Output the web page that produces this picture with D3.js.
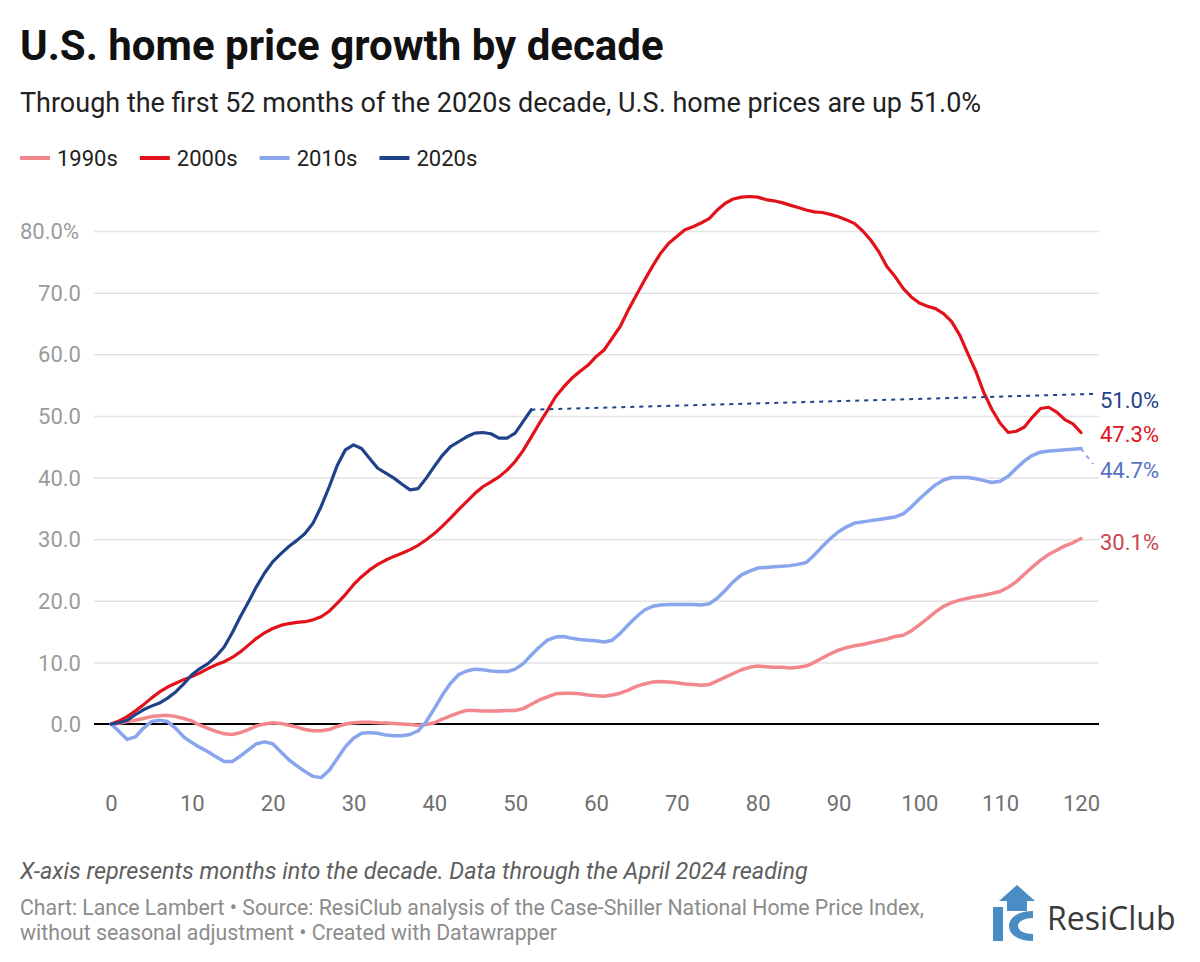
<!DOCTYPE html>
<html>
<head>
<meta charset="utf-8">
<script src="https://cdn.jsdelivr.net/npm/d3@7"></script>
<style>
  body { margin: 0; background: #fff; font-family: Roboto, "Noto Sans", sans-serif; }
  svg { display: block; }
</style>
</head>
<body>
<svg id="chart" width="1200" height="962"></svg>
<script>
// months into the decade, % change since month 0
const decades = ['1990s', '2000s', '2010s', '2020s'];
const colors = ['#f2878e', '#e2121b', '#88a5ee', '#1f4288'];
const labelColors = ['#c8464f', '#e2121b', '#5873c6', '#1f4288'];

const s1990 = [0, 0.1, 0.4, 0.6, 0.9, 1.2, 1.35, 1.4, 1.2, 0.9, 0.5, -0.2, -0.7, -1.2, -1.6, -1.7, -1.4, -0.9, -0.3, 0.0,
  0.2, 0.1, -0.2, -0.5, -0.9, -1.1, -1.1, -0.9, -0.4, 0.0, 0.2, 0.3, 0.3, 0.2, 0.15, 0.1, 0.0, -0.1, -0.2, -0.1,
  0.2, 0.8, 1.3, 1.8, 2.2, 2.2, 2.1, 2.1, 2.1, 2.2, 2.2, 2.5, 3.2, 3.9, 4.4, 4.9, 5.0, 5.0, 4.9, 4.7,
  4.6, 4.5, 4.7, 5.0, 5.5, 6.1, 6.5, 6.8, 6.9, 6.8, 6.7, 6.5, 6.4, 6.3, 6.4, 7.0, 7.6, 8.2, 8.8, 9.2,
  9.4, 9.3, 9.2, 9.2, 9.1, 9.2, 9.4, 10.0, 10.7, 11.4, 12.0, 12.4, 12.7, 12.9, 13.2, 13.5, 13.8, 14.2, 14.4, 15.1,
  16.1, 17.1, 18.2, 19.1, 19.7, 20.1, 20.4, 20.7, 20.9, 21.2, 21.5, 22.2, 23.1, 24.3, 25.5, 26.6, 27.5, 28.2, 28.9, 29.4,
  30.1];

const s2000 = [0, 0.5, 1.2, 2.1, 3.1, 4.2, 5.2, 6.0, 6.6, 7.2, 7.7, 8.3, 9.0, 9.6, 10.1, 10.8, 11.7, 12.8, 13.9, 14.8,
  15.5, 16.0, 16.3, 16.5, 16.6, 16.9, 17.4, 18.3, 19.6, 21.0, 22.6, 23.9, 25.0, 25.9, 26.6, 27.2, 27.7, 28.3, 29.0, 29.9,
  30.9, 32.1, 33.4, 34.8, 36.1, 37.4, 38.5, 39.3, 40.1, 41.2, 42.6, 44.4, 46.6, 48.8, 50.9, 53.1, 54.7, 56.1, 57.2, 58.2,
  59.6, 60.7, 62.6, 64.5, 67.2, 69.6, 72.0, 74.3, 76.4, 78.0, 79.1, 80.2, 80.7, 81.3, 82.0, 83.4, 84.5, 85.2, 85.5, 85.6,
  85.5, 85.1, 84.9, 84.6, 84.2, 83.8, 83.4, 83.1, 83.0, 82.7, 82.3, 81.8, 81.2, 80.0, 78.5, 76.6, 74.2, 72.6, 70.7, 69.3,
  68.3, 67.8, 67.4, 66.6, 65.3, 63.1, 60.1, 57.2, 53.7, 51.0, 48.8, 47.3, 47.5, 48.2, 49.8, 51.2, 51.4, 50.6, 49.4, 48.7,
  47.3];

const s2010 = [0, -1.2, -2.5, -2.1, -0.7, 0.4, 0.6, 0.4, -0.7, -2.1, -3.0, -3.8, -4.5, -5.3, -6.1, -6.1, -5.2, -4.2, -3.2, -2.9,
  -3.2, -4.5, -5.8, -6.8, -7.7, -8.5, -8.7, -7.5, -5.6, -3.7, -2.3, -1.5, -1.4, -1.5, -1.8, -1.9, -1.9, -1.7, -1.1, 0.4,
  2.5, 4.7, 6.6, 8.0, 8.6, 8.9, 8.8, 8.6, 8.5, 8.5, 8.9, 9.8, 11.2, 12.5, 13.6, 14.1, 14.2, 13.9, 13.7, 13.6,
  13.5, 13.3, 13.6, 14.7, 16.1, 17.4, 18.5, 19.1, 19.3, 19.4, 19.4, 19.4, 19.4, 19.3, 19.5, 20.4, 21.7, 23.1, 24.2, 24.8,
  25.3, 25.4, 25.5, 25.6, 25.7, 25.9, 26.2, 27.4, 28.8, 30.1, 31.2, 32.0, 32.6, 32.8, 33.0, 33.2, 33.4, 33.6, 34.1, 35.2,
  36.5, 37.7, 38.8, 39.6, 40.0, 40.0, 40.0, 39.8, 39.5, 39.2, 39.4, 40.2, 41.5, 42.7, 43.6, 44.1, 44.3, 44.4, 44.5, 44.6,
  44.7];

const s2020 = [0, 0.2, 0.6, 1.5, 2.3, 2.9, 3.4, 4.2, 5.2, 6.5, 8.0, 9.0, 9.8, 11.0, 12.5, 14.8, 17.4, 19.8, 22.3, 24.5,
  26.3, 27.6, 28.8, 29.8, 30.9, 32.6, 35.3, 38.5, 42.0, 44.5, 45.3, 44.7, 43.1, 41.5, 40.7, 39.9, 38.9, 38.0, 38.2, 39.9,
  41.8, 43.6, 45.0, 45.8, 46.6, 47.2, 47.3, 47.1, 46.4, 46.4, 47.2, 49.1, 51.0];

const series = [s1990, s2000, s2010, s2020];
const yTicks = [0, 10, 20, 30, 40, 50, 60, 70, 80];
const xTicks = [0, 10, 20, 30, 40, 50, 60, 70, 80, 90, 100, 110, 120];

// label placement for the line ends (label centre y)
const labelY = [542, 434, 470, 400];

const svg = d3.select('#chart');

const x = d3.scaleLinear().domain([0, 120]).range([111, 1081]);
const y = d3.scaleLinear().domain([0, 80]).range([724, 231]);

// header
svg.append('text')
  .attr('x', 20).attr('y', 60)
  .style('font-size', '42px').style('font-weight', 700).style('fill', '#111')
  .text('U.S. home price growth by decade');

svg.append('text')
  .attr('x', 20).attr('y', 112)
  .style('font-size', '27px').style('fill', '#222')
  .text('Through the first 52 months of the 2020s decade, U.S. home prices are up 51.0%');

// legend
let lx = 20;
decades.forEach(function(d, i) {
  svg.append('line')
    .attr('x1', lx).attr('x2', lx + 30)
    .attr('y1', 158).attr('y2', 158)
    .attr('stroke', colors[i]).attr('stroke-width', 4);
  const t = svg.append('text')
    .attr('x', lx + 37).attr('y', 166)
    .style('font-size', '22px').style('fill', '#222')
    .text(d);
  lx += 37 + t.node().getComputedTextLength() + 22;
});

// y grid + labels
const yAxis = svg.append('g').attr('transform', 'translate(94,0)')
  .call(d3.axisLeft(y).tickValues(yTicks).tickSize(-1005).tickPadding(13)
    .tickFormat(function(d) { return d3.format('.1f')(d) + (d === 80 ? '%' : ''); }));
yAxis.select('.domain').remove();
yAxis.selectAll('.tick line').attr('stroke', '#e3e3e3').attr('stroke-width', 1.5);
yAxis.selectAll('.tick text')
  .style('font-size', '22px').style('fill', '#9b9b9b').attr('font-family', 'Roboto')
  .attr('x', -13).attr('dy', '0.35em');
// the "%" hangs out past the right edge of the numbers
yAxis.selectAll('.tick text').filter(function(d) { return d === 80; })
  .attr('text-anchor', 'start').attr('x', -74);

// zero line
svg.append('line')
  .attr('x1', 94).attr('x2', 1099)
  .attr('y1', y(0)).attr('y2', y(0))
  .attr('stroke', '#000').attr('stroke-width', 2);

// x labels
const xAxis = svg.append('g').attr('transform', 'translate(0,' + y(0) + ')')
  .call(d3.axisBottom(x).tickValues(xTicks).tickSize(0).tickPadding(0));
xAxis.select('.domain').remove();
xAxis.selectAll('.tick text')
  .attr('y', 87).attr('dy', 0)
  .style('font-size', '22px').style('fill', '#707070').attr('font-family', 'Roboto');

// lines
const line = d3.line()
  .x(function(d, i) { return x(i); })
  .y(function(d) { return y(d); });

series.forEach(function(s, i) {
  svg.append('path')
    .datum(s)
    .attr('d', line)
    .attr('fill', 'none')
    .attr('stroke', colors[i])
    .attr('stroke-width', i % 2 === 0 ? 3.5 : 3.2)
    .attr('stroke-linejoin', 'round')
    .attr('stroke-linecap', 'round');
});

// connectors from line ends to shifted labels
series.forEach(function(s, i) {
  const last = s.length - 1;
  const ly = labelY[i];
  if (Math.abs(ly - y(s[last])) > 8) {
    svg.append('line')
      .attr('x1', x(last)).attr('y1', y(s[last]))
      .attr('x2', 1093).attr('y2', ly - 6)
      .attr('stroke', colors[i]).attr('stroke-width', 2)
      .attr('stroke-dasharray', '4,5');
  }
  svg.append('text')
    .attr('x', 1100).attr('y', ly).attr('dy', '0.35em')
    .style('font-size', '22px').style('fill', labelColors[i])
    .text(d3.format('.1f')(s[last]) + '%');
});

// footer
svg.append('text')
  .attr('x', 20).attr('y', 879)
  .style('font-size', '23.4px').style('font-style', 'italic').style('fill', '#5e5e5e')
  .text('X-axis represents months into the decade. Data through the April 2024 reading');

svg.append('text')
  .attr('x', 20).attr('y', 915)
  .style('font-size', '21.3px').style('fill', '#8c8c8c')
  .text('Chart: Lance Lambert \u2022 Source: ResiClub analysis of the Case-Shiller National Home Price Index,');
svg.append('text')
  .attr('x', 20).attr('y', 940)
  .style('font-size', '21.3px').style('fill', '#8c8c8c')
  .text('without seasonal adjustment \u2022 Created with Datawrapper');

// ResiClub logo
const logo = svg.append('g').attr('transform', 'translate(993,885)');
logo.append('path')
  .attr('d', 'M24,0 L42,16 L34,16 L34,26 L14,26 L14,16 L6,16 Z')
  .attr('fill', '#4a8cc4');
logo.append('path')
  .attr('d', 'M0,22 L10,22 L10,56 L0,56 Z M2,30 L10,40 L10,44 L2,34 Z')
  .attr('fill', '#4a8cc4');
logo.append('path')
  .attr('d', 'M40,26 C26,26 16,32 16,41 C16,50 26,56 40,56 L40,49 C32,49 25,46 25,41 C25,36 32,33 40,33 Z')
  .attr('fill', '#4a8cc4');
svg.append('text')
  .attr('x', 1047).attr('y', 930)
  .style('font-size', '32px').style('fill', '#3a3a3a').style('font-family', '"Open Sans", Roboto, sans-serif')
  .text('ResiClub');
</script>
</body>
</html>
